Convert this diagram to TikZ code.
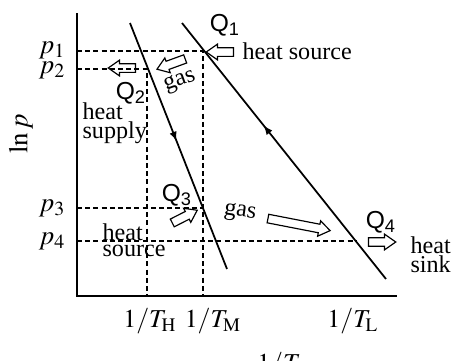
\documentclass[tikz,border=0pt]{standalone}
\usepackage{mathptmx}
\usepackage{fontspec}
\setmainfont{Liberation Serif}
\newfontfamily\qsans{Liberation Sans}
\usetikzlibrary{arrows.meta,shapes.arrows,decorations.markings}
\tikzset{
  every picture/.style={line width=0.5pt},
  axisline/.style={line width=0.95pt},
  guide/.style={dash pattern=on 2.1pt off 1.4pt, line width=0.45pt},
  process/.style={line width=0.75pt, postaction={decorate},
    decoration={markings, mark=at position #1 with {\arrow{Latex[length=4pt, width=3.2pt]}}}},
  hollow/.style={draw, line width=0.5pt, single arrow, minimum height=#1, minimum width=0pt,
    inner xsep=0pt, inner ysep=1.6pt, single arrow head extend=1.5pt, single arrow tip angle=70},
  hollow/.default=0.41cm,
  txt/.style={font=\fontsize{10.3}{6.9}\selectfont, inner sep=0pt, align=left},
  qlabel/.style={font=\qsans\fontsize{10.5}{12}\selectfont, inner sep=0pt},
  plabel/.style={font=\fontsize{11.5}{13}\selectfont, inner sep=0pt},
  tlabel/.style={font=\fontsize{11}{13}\selectfont, inner sep=0pt},
}
\begin{document}
\begin{tikzpicture}[x=0.015cm, y=-0.015cm]
  \useasboundingbox (0,0) rectangle (453,361);
  % axes
  \coordinate (O) at (77,296);
  \coordinate (ytop) at (77,13);
  \coordinate (xend) at (397,296);
  \draw[axisline] (ytop) -- (O) -- (xend);
  % process lines
  \coordinate (m1) at (130,23);
  \coordinate (m2) at (227,269);
  \coordinate (l1) at (182,23);
  \coordinate (l2) at (386,279);
  % state points
  \coordinate (s1) at (203,51);
  \coordinate (s2) at (147,69);
  \coordinate (s3) at (203,208);
  \coordinate (s4) at (357,241);
  \draw[guide] (s1 -| O) -- (s1) -- (s1 |- O);
  \draw[guide] (s2 -| O) -- (s2) -- (s2 |- O);
  \draw[guide] (s3 -| O) -- (s3);
  \draw[guide] (s4 -| O) -- (s4);
  \draw[process=0.48] (m1) -- (m2);
  \draw[process=0.6] (l2) -- (l1);
  % axis labels
  \node[plabel, anchor=east] (p1) at (66,50) {$p_1$};
  \node[plabel, anchor=east] (p2) at (66,70) {$p_2$};
  \node[plabel, anchor=east] (p3) at (66,208) {$p_3$};
  \node[plabel, anchor=east] (p4) at (66,241) {$p_4$};
  \node[plabel, rotate=90] (lnp) at (21,134) {$\ln p$};
  \node[tlabel] (tH) at (150,321) {$1/T_{\mathrm{H}}$};
  \node[tlabel] (tM) at (213,321) {$1/T_{\mathrm{M}}$};
  \node[tlabel] (tL) at (353,321) {$1/T_{\mathrm{L}}$};
  \node[tlabel, anchor=north] (invT) at (279,352) {$1/T$};
  % heat flows
  \node[hollow, rotate=180] (a1) at (223,52) {};
  \node[hollow, rotate=180] (a2) at (125,68) {};
  \node[hollow=0.45cm, rotate=200] (a3) at (174,63) {};
  \node[hollow=0.42cm, rotate=27] (a4) at (182,218) {};
  \node[hollow=0.95cm, rotate=-11] (a5) at (296,224) {};
  \node[hollow] (a6) at (379,242) {};
  \node[qlabel] (q1) at (225,25) {Q\textsubscript{1}};
  \node[qlabel] (q2) at (131,93) {Q\textsubscript{2}};
  \node[qlabel] (q3) at (177,195) {Q\textsubscript{3}};
  \node[qlabel] (q4) at (381,222) {Q\textsubscript{4}};
  \node[txt, anchor=west] (src1) at (242,51) {heat source};
  \node[txt, anchor=north west] (sup) at (82,102) {heat\\supply};
  \node[txt, anchor=north west] (src2) at (102,223) {heat\\source};
  \node[txt, anchor=north west] (sink) at (410,236) {heat\\sink};
  \node[txt, rotate=20] (gas1) at (180,82) {gas};
  \node[txt, rotate=-8] (gas2) at (240,213) {gas};
\end{tikzpicture}
\end{document}
